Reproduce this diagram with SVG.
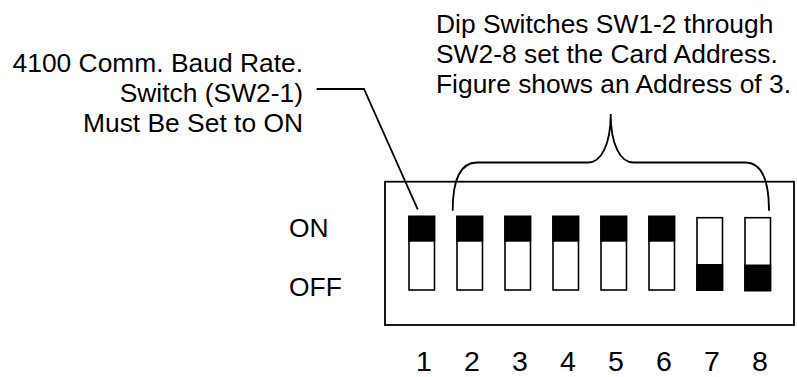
<svg xmlns="http://www.w3.org/2000/svg" width="797" height="377" viewBox="0 0 797 377">
<style>
text{font-family:"Liberation Sans",Arial,sans-serif;font-size:26.4px;fill:#000}
.num{font-size:28.5px;text-anchor:middle}
.sw{fill:#fff;stroke:#000;stroke-width:1.6}
.knob{fill:#000}
.ln{fill:none;stroke:#000;stroke-width:1.8}
</style>
<rect width="797" height="377" fill="#fff"/>
<g id="label-baud">
<text x="303" y="72" text-anchor="end">4100 Comm. Baud Rate.</text>
<text x="303" y="102" text-anchor="end">Switch (SW2-1)</text>
<text x="303" y="132" text-anchor="end">Must Be Set to ON</text>
</g>
<g id="label-address">
<text x="436" y="33">Dip Switches SW1-2 through</text>
<text x="436" y="63">SW2-8 set the Card Address.</text>
<text x="436" y="93">Figure shows an Address of 3.</text>
</g>
<g id="labels-onoff">
<text x="289" y="237">ON</text>
<text x="289" y="296">OFF</text>
</g>
<g id="dip-block">
<rect x="385" y="181.7" width="409" height="143.3" fill="#fff" stroke="#000" stroke-width="1.8"/>
</g>
<g id="switch-1"><rect class="sw" x="409" y="216.5" width="25.5" height="73.5"/><rect class="knob" x="408.2" y="215.7" width="27" height="26"/></g>
<g id="switch-2"><rect class="sw" x="457" y="216.5" width="25.5" height="73.5"/><rect class="knob" x="456.2" y="215.7" width="27" height="26"/></g>
<g id="switch-3"><rect class="sw" x="505" y="216.5" width="25.5" height="73.5"/><rect class="knob" x="504.2" y="215.7" width="27" height="26"/></g>
<g id="switch-4"><rect class="sw" x="553" y="216.5" width="25.5" height="73.5"/><rect class="knob" x="552.2" y="215.7" width="27" height="26"/></g>
<g id="switch-5"><rect class="sw" x="601" y="216.5" width="25.5" height="73.5"/><rect class="knob" x="600.2" y="215.7" width="27" height="26"/></g>
<g id="switch-6"><rect class="sw" x="649" y="216.5" width="25.5" height="73.5"/><rect class="knob" x="648.2" y="215.7" width="27" height="26"/></g>
<g id="switch-7"><rect class="sw" x="697" y="217.7" width="25.5" height="72.5"/><rect class="knob" x="696.2" y="264" width="27" height="27"/></g>
<g id="switch-8"><rect class="sw" x="745" y="217.7" width="25.5" height="72.5"/><rect class="knob" x="744.2" y="264.5" width="27" height="27"/></g>
<g id="numbers">
<text class="num" x="424" y="371">1</text>
<text class="num" x="472" y="371">2</text>
<text class="num" x="520" y="371">3</text>
<text class="num" x="568" y="371">4</text>
<text class="num" x="616" y="371">5</text>
<text class="num" x="664" y="371">6</text>
<text class="num" x="712" y="371">7</text>
<text class="num" x="760" y="371">8</text>
</g>
<g id="connectors">
<path class="ln" d="M316.7,89 L364,89 L417.7,209.3"/>
<path class="ln" d="M452.7,210.7 C452.7,180 460,162.5 477,162.5 L588,162.5 C601,162.5 610.7,145 610.7,114 C610.7,145 620.5,162.5 633.5,162.5 L745,162.5 C762,162.5 769,180 769,210.7"/>
</g>
</svg>
